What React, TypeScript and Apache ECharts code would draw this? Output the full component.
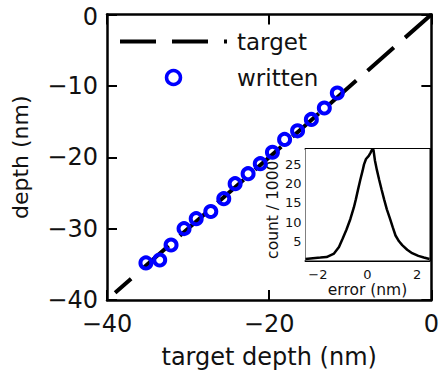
import React, { useEffect, useRef } from 'react';
import * as echarts from 'echarts';

// target line endpoints (nm)
const targetLine = [0, -39];
// written dots: target depth vs measured depth (nm)
const writtenTarget = [-35.2, -33.5, -32.1, -30.5, -29.0, -27.2, -25.6, -24.2, -22.6, -21.1, -19.6, -18.1, -16.5, -14.8, -13.2, -11.6];
const writtenDepth = [-34.8, -34.4, -32.3, -30.0, -28.6, -27.6, -25.8, -23.7, -22.3, -20.9, -19.3, -17.5, -16.3, -14.7, -13.1, -11.0];
// inset histogram of error
const errorNm = [-2.5, -2.2, -1.9, -1.65, -1.35, -1.15, -1.0, -0.85, -0.69, -0.55, -0.47, -0.38, -0.29, -0.2, -0.14, -0.06, 0.05, 0.12, 0.18, 0.24, 0.3, 0.38, 0.47, 0.57, 0.67, 0.78, 0.91, 1.02, 1.13, 1.27, 1.4, 1.6, 1.8, 2.05, 2.27, 2.5];
const countPer1000 = [0.4, 0.6, 0.75, 0.9, 1.8, 3.5, 5.7, 8.0, 10.8, 13.8, 15.9, 18.5, 21.0, 23.3, 25.0, 26.4, 27.2, 28.0, 28.8, 28.8, 26.0, 23.5, 21.0, 18.4, 15.9, 13.3, 10.8, 8.6, 6.5, 5.0, 4.0, 2.8, 1.9, 1.2, 0.77, 0.4];
const insetXTicks = [-2, 0, 2];
const insetYTicks = [5, 10, 15, 20, 25];

const FONT = 'DejaVu Sans';
const TXT = '#111';
const fmt = (v: number) => String(v).replace('-', '\u2212');

export default function App() {
  const ref = useRef<HTMLDivElement>(null);
  useEffect(() => {
    const chart = echarts.init(ref.current!, null, { renderer: 'svg' });
    const mainLine = { lineStyle: { color: '#000', width: 2.5 }, onZero: false };
    const mainTick = { inside: true, length: 10, lineStyle: { color: '#000', width: 2 } };
    const insetLine = { lineStyle: { color: '#000', width: 2 }, onZero: false };
    const insetTick = { inside: true, length: 4, lineStyle: { color: '#000', width: 1.5 } };
    chart.setOption({
      animation: false,
      backgroundColor: '#fff',
      textStyle: { fontFamily: FONT, color: TXT },
      grid: [
        { left: 107, right: 8, top: 12, bottom: 75 },
        { left: 305.5, right: 12.5, top: 149, bottom: 114.5, show: true, backgroundColor: '#fff', borderWidth: 0, z: 5 },
      ],
      legend: {
        orient: 'vertical',
        left: 118,
        top: 30,
        padding: 0,
        itemWidth: 107,
        itemHeight: 14,
        itemGap: 13,
        textStyle: { fontFamily: FONT, fontSize: 23, color: TXT, padding: [0, 0, 0, 5] },
        data: [
          {
            name: 'target',
            itemStyle: { color: 'rgba(0,0,0,0)', borderColor: 'rgba(0,0,0,0)', borderWidth: 0 },
            lineStyle: { color: '#000', width: 4, type: [36, 16], dashOffset: 0 },
          },
          { name: 'written', itemStyle: { color: 'rgba(0,0,0,0)', borderColor: '#0000ff', borderWidth: 3.5, opacity: 1 } },
        ],
      },
      xAxis: [
        {
          gridIndex: 0, type: 'value', position: 'bottom', min: -40, max: 0, interval: 20,
          axisLine: mainLine, axisTick: mainTick, splitLine: { show: false },
          axisLabel: { fontFamily: FONT, fontSize: 24, color: TXT, margin: 12, formatter: fmt },
          name: 'target depth (nm)', nameLocation: 'middle', nameGap: 45,
          nameTextStyle: { fontFamily: FONT, fontSize: 24, color: TXT },
        },
        {
          gridIndex: 0, type: 'value', position: 'top', min: -40, max: 0, interval: 20,
          axisLine: mainLine, axisTick: mainTick, splitLine: { show: false }, axisLabel: { show: false },
        },
        {
          gridIndex: 1, type: 'value', position: 'bottom', min: -2.5, max: 2.5,
          axisLine: insetLine,
          axisTick: { ...insetTick, customValues: insetXTicks },
          splitLine: { show: false },
          axisLabel: { fontFamily: FONT, fontSize: 13, lineHeight: 12, color: TXT, margin: 8, formatter: fmt, customValues: insetXTicks },
          name: 'error (nm)', nameLocation: 'middle', nameGap: 21,
          nameTextStyle: { fontFamily: FONT, fontSize: 15.5, lineHeight: 15, color: TXT },
        },
        {
          gridIndex: 1, type: 'value', position: 'top', min: -2.5, max: 2.5,
          axisLine: insetLine,
          axisTick: { ...insetTick, customValues: insetXTicks },
          splitLine: { show: false }, axisLabel: { show: false },
        },
      ],
      yAxis: [
        {
          gridIndex: 0, type: 'value', position: 'left', min: -40, max: 0, interval: 10,
          axisLine: mainLine, axisTick: mainTick, splitLine: { show: false },
          axisLabel: {
            fontFamily: FONT, fontSize: 24, lineHeight: 18, color: TXT, margin: 9,
            formatter: (v: number) => (v === 0 ? '{top|0}' : fmt(v)),
            rich: { top: { fontFamily: FONT, fontSize: 24, lineHeight: 18, color: TXT, padding: [5, 0, 0, 0] } },
          },
          name: 'depth (nm)', nameLocation: 'middle', nameGap: 76,
          nameTextStyle: { fontFamily: FONT, fontSize: 22, color: TXT },
        },
        {
          gridIndex: 0, type: 'value', position: 'right', min: -40, max: 0, interval: 10,
          axisLine: mainLine, axisTick: mainTick, splitLine: { show: false }, axisLabel: { show: false },
        },
        {
          gridIndex: 1, type: 'value', position: 'left', min: 0, max: 29,
          axisLine: insetLine,
          axisTick: { ...insetTick, customValues: insetYTicks },
          splitLine: { show: false },
          axisLabel: { fontFamily: FONT, fontSize: 13, color: TXT, margin: 4, customValues: insetYTicks },
          name: 'count / 1000', nameLocation: 'middle', nameGap: 25,
          nameTextStyle: { fontFamily: FONT, fontSize: 15.5, lineHeight: 15, color: TXT, padding: [0, 10, 0, 0] },
        },
        {
          gridIndex: 1, type: 'value', position: 'right', min: 0, max: 29,
          axisLine: insetLine,
          axisTick: { ...insetTick, customValues: insetYTicks },
          splitLine: { show: false }, axisLabel: { show: false },
        },
      ],
      series: [
        {
          name: 'target', type: 'line', xAxisIndex: 0, yAxisIndex: 0,
          data: targetLine.map((v) => [v, v]),
          symbol: 'none', showSymbol: false, z: 2,
          itemStyle: { color: '#000' },
          lineStyle: { color: '#000', width: 4, type: [35, 15], dashOffset: 0, cap: 'butt' },
        },
        {
          name: 'written', type: 'scatter', xAxisIndex: 0, yAxisIndex: 0,
          data: writtenTarget.map((x, i) => [x, writtenDepth[i]]),
          symbol: 'circle', symbolSize: 11, z: 3,
          itemStyle: { color: 'rgba(0,0,0,0)', borderColor: '#0000ff', borderWidth: 4, opacity: 1 },
        },
        {
          name: 'error', type: 'line', xAxisIndex: 2, yAxisIndex: 2,
          data: errorNm.map((x, i) => [x, countPer1000[i]]),
          symbol: 'none', z: 6,
          lineStyle: { color: '#000', width: 2.5 },
        },
      ],
    });
    return () => chart.dispose();
  }, []);
  return <div ref={ref} style={{ position: 'absolute', left: 0, top: 0, width: 442, height: 375 }} />;
}
